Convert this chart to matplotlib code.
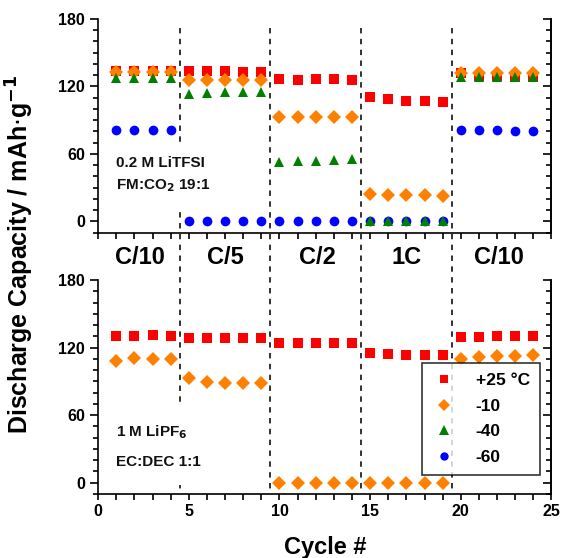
import matplotlib
matplotlib.use("Agg")
import matplotlib.pyplot as plt
from matplotlib.lines import Line2D
from matplotlib.patches import Rectangle
from matplotlib.ticker import MultipleLocator
import matplotlib.transforms as mtrans

plt.rcParams['font.family'] = ['Liberation Sans', 'DejaVu Sans']

cycles = list(range(1, 25))

# Top panel: 0.2 M LiTFSI in FM:CO2 19:1
top_25 = [134, 134, 134, 134, 134, 134, 134, 133, 133, 126.8, 125.9, 126.5, 126.5, 125.3,
          110.5, 108.8, 107.5, 107.5, 106.6, 131.8, 129.4, 129.4, 128.3, 128.3]
top_m10 = [132.7, 132.7, 132.7, 132.7, 125.9, 125.9, 125.9, 125.9, 125.9, 92.5, 92.5, 92.5, 92.5, 92.5,
           24.8, 23.9, 23.9, 23.9, 23.0, 132.4, 132.4, 132.4, 132.4, 132.4]
top_m40 = [127.2, 127.2, 127.2, 127.2, 113.2, 113.8, 115, 115.5, 115.5, 52.6, 53.5, 54.1, 55, 55.9,
           0.3, 0.3, 0.5, 0.3, 0.3, 128.8, 128.8, 128.8, 128.8, 128.8]
top_m60 = [81, 81, 81, 81, 0.3, 0.3, 0.3, 0.3, 0.3, 0.3, 0.3, 0.3, 0.3, 0.3,
           0.3, 0.3, 0.3, 0.3, 0.3, 81.6, 81.6, 81, 80.1, 80.1]

# Bottom panel: 1 M LiPF6 in EC:DEC 1:1
bot_25 = [130.3, 130.6, 131.2, 130.6, 128.3, 128.8, 128.3, 128.3, 128.3, 124.4, 123.8, 123.8, 123.8, 123.8,
          115, 114.4, 113.5, 113.5, 113.5, 129.7, 129.7, 130.3, 130.3, 130.3]
bot_m10 = [108.4, 110.5, 109.9, 109.9, 92.8, 89.8, 88.4, 88.9, 88.9, 0, 0, 0, 0, 0,
           0, 0, 0, 0, 0, 109.6, 111.4, 112.6, 112.6, 113.5]

rate_labels = ['C/10', 'C/5', 'C/2', '1C', 'C/10']
rate_centers = [2.3, 7.0, 12.1, 17.0, 22.1]
boundaries = [4.5, 9.5, 14.5, 19.5]
legend_labels = ['+25 °C', '-10', '-40', '-60']

colors = ['#ff0000', '#ff8000', '#008000', '#0000ff']
markers = ['s', 'D', '^', 'o']
msizes = [7, 7, 7.5, 7]

fig = plt.figure(figsize=(5.61, 5.58), dpi=100)
ax1 = fig.add_axes([0.175, 0.583, 0.808, 0.383])
ax2 = fig.add_axes([0.175, 0.115, 0.808, 0.383])

for ax in (ax1, ax2):
    ax.set_facecolor('none')
    ax.set_xlim(0, 25)
    ax.set_ylim(-10, 180)
    ax.spines['top'].set_visible(False)
    for s in ('left', 'right', 'bottom'):
        ax.spines[s].set_linewidth(1.2)
    ax.set_yticks([0, 60, 120, 180])
    ax.yaxis.set_minor_locator(MultipleLocator(10))
    ax.set_xticks([0, 5, 10, 15, 20, 25])
    ax.xaxis.set_minor_locator(MultipleLocator(1))
    ax.tick_params(axis='y', which='both', left=True, right=False, direction='out', width=1.2)
    ax.tick_params(axis='y', which='major', length=6)
    ax.tick_params(axis='y', which='minor', length=3.5)
    ax.tick_params(axis='x', which='both', direction='out', width=1.2, length=4, top=False)
    for lab in ax.get_yticklabels() + ax.get_xticklabels():
        lab.set_fontweight('bold')
        lab.set_fontsize(11.5)
    sec = ax.secondary_yaxis('right')
    sec.set_yticks([0, 60, 120, 180])
    sec.yaxis.set_minor_locator(MultipleLocator(10))
    sec.tick_params(axis='y', which='both', direction='in', width=1.2, labelright=False)
    sec.tick_params(axis='y', which='major', length=6)
    sec.tick_params(axis='y', which='minor', length=3.5)
    sec.spines['right'].set_linewidth(1.2)

ax1.tick_params(axis='x', labelbottom=False)

series_top = [top_25, top_m10, top_m40, top_m60]
handles = []
zorders = [4, 5, 6, 3]
for vals, c, m, ms, z, lab in zip(series_top, colors, markers, msizes, zorders, legend_labels):
    ax1.plot(cycles, vals, linestyle='none', marker=m, color=c, markersize=ms,
             markeredgewidth=0, zorder=z)
    handles.append(Line2D([], [], linestyle='none', marker=m, color=c,
                          markersize=ms - 1, markeredgewidth=0, label=lab))

ax2.plot(cycles, bot_25, linestyle='none', marker='s', color=colors[0], markersize=7,
         markeredgewidth=0, zorder=4)
ax2.plot(cycles, bot_m10, linestyle='none', marker='D', color=colors[1], markersize=7,
         markeredgewidth=0, zorder=5)

# dashed separators spanning both panels
blend = mtrans.blended_transform_factory(ax1.transData, fig.transFigure)
for b in boundaries:
    ln = Line2D([b, b], [1 - 28 / 558, 1 - 490 / 558], transform=blend, color='#222222',
                linestyle=(0, (3, 3)), linewidth=1.3, zorder=-1)
    fig.add_artist(ln)

# rate labels between panels
for lab, xc in zip(rate_labels, rate_centers):
    t = fig.text(xc, 1 - 258 / 558, lab, fontsize=17, fontweight='bold',
                 ha='center', va='center')
    t.set_transform(blend)

# white backgrounds behind the annotation text
ax1.add_patch(Rectangle((0.8, 8), 6.5, 63, facecolor='white', edgecolor='none', zorder=6.5))
ax2.add_patch(Rectangle((0.8, -2), 6.5, 69, facecolor='white', edgecolor='none', zorder=6.5))

ax1.text(1.0, 52, '0.2 M LiTFSI', fontsize=11, fontweight='bold', color='#111111',
         ha='left', va='center', zorder=7)
ax1.text(1.0, 32, r'FM:CO$_\mathbf{2}$ 19:1', fontsize=11, fontweight='bold', color='#111111',
         ha='left', va='center', zorder=7)
ax2.text(1.0, 45, r'1 M LiPF$_\mathbf{6}$', fontsize=11, fontweight='bold', color='#111111',
         ha='left', va='center', zorder=7)
ax2.text(1.0, 18, 'EC:DEC 1:1', fontsize=11, fontweight='bold', color='#111111',
         ha='left', va='center', zorder=7)

leg = ax2.legend(handles=handles, loc='lower right', bbox_to_anchor=(0.975, 0.087),
                 frameon=True, fancybox=False, fontsize=12.5, handletextpad=1.1,
                 borderpad=0.6, labelspacing=0.6, handlelength=1.4, borderaxespad=0)
leg.get_frame().set_edgecolor('black')
leg.get_frame().set_linewidth(1.2)
for t in leg.get_texts():
    t.set_fontweight('bold')
leg.set_zorder(10)

fig.text(0.035, 0.545, r'Discharge Capacity / mAh$\cdot$g$^{\mathbf{-1}}$', rotation=90,
         fontsize=18, fontweight='bold', ha='center', va='center')
fig.text(0.579, 0.018, 'Cycle #', fontsize=17, fontweight='bold', ha='center', va='center')

fig.savefig('out.png', dpi=100)
